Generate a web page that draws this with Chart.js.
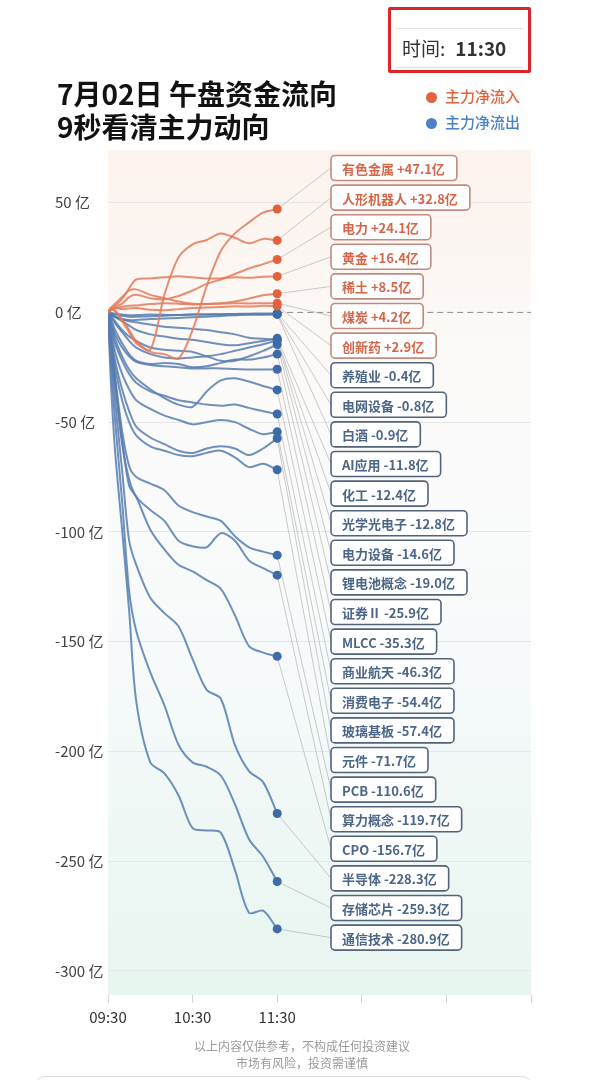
<!DOCTYPE html>
<html lang="zh-CN">
<head>
<meta charset="utf-8">
<title>7月02日 午盘资金流向</title>
<script src="https://cdn.jsdelivr.net/npm/chart.js@4.4.1/dist/chart.umd.min.js"></script>
<style>
    html, body { margin: 0; padding: 0; background: #fff; }
    body {
        width: 604px; height: 1080px; position: relative; overflow: hidden;
        font-family: "Noto Sans CJK SC", "Noto Sans", sans-serif;
    }
    .flow__chart { position: absolute; left: 0; top: 0; }
    .flow__title {
        position: absolute; left: 57px; top: 77px;
        font-size: 28px; font-weight: 700; line-height: 33px; color: #111;
    }
    .flow__legend {
        position: absolute; left: 426px; top: 83px;
        font-size: 15px; font-weight: 500; line-height: 26px;
    }
    .flow__legend i {
        display: inline-block; width: 11px; height: 11px; border-radius: 50%;
        margin-right: 8px; vertical-align: -1px;
    }
    .flow__time {
        position: absolute; left: 388px; top: 7px; width: 143px; height: 66px;
        box-sizing: border-box; border: 3px solid #d8262b; border-radius: 2px;
    }
    .flow__time-inner {
        position: absolute; left: 5px; right: 5px; top: 18px; height: 38px;
        border-top: 1px solid #e2e2e2; border-bottom: 1px solid #e2e2e2;
        font-size: 19px; line-height: 38px; color: #333; white-space: nowrap;
    }
    .flow__time-inner span { margin-left: 6px; }
    .flow__time-inner b { margin-left: 10px; font-weight: 700; }
    .flow__note {
        position: absolute; left: 0; top: 1037px; width: 604px; text-align: center;
        font-size: 12px; line-height: 17px; color: #9a9a9a;
    }
    .flow__input {
        position: absolute; left: 35px; top: 1076px; width: 495px; height: 20px;
        border: 1px solid #dcdcdc; border-radius: 10px;
    }
</style>
</head>
<body>
<canvas class="flow__chart" width="604" height="1080"></canvas>

<div class="flow__time"><div class="flow__time-inner"><span>时间:</span><b>11:30</b></div></div>
<div class="flow__title">7月02日 午盘资金流向<br>9秒看清主力动向</div>
<div class="flow__legend">
    <div style="color:#e2643f"><i style="background:#e2643f"></i>主力净流入</div>
    <div style="color:#4a82c8"><i style="background:#4a82c8"></i>主力净流出</div>
</div>
<div class="flow__note">以上内容仅供参考，不构成任何投资建议<br>市场有风险，投资需谨慎</div>
<div class="flow__input"></div>

<script>
// Data (minutes after 09:30, values in 亿)

const minutes = [0, 2, 5, 10, 15, 20, 30, 40, 50, 60, 70, 80, 90, 100, 110, 120];
const xTicks = [0, 60, 120, 180, 240, 300];
const xTickLabels = ["09:30", "10:30", "11:30", "", "", ""];
const yTicks = [50, 0, -50, -100, -150, -200, -250, -300];

const sectors = [
    "有色金属", "人形机器人", "电力", "黄金", "稀土", "煤炭", "创新药",
    "养殖业", "电网设备", "白酒", "AI应用", "化工", "光学光电子", "电力设备",
    "锂电池概念", "证券Ⅱ", "MLCC", "商业航天", "消费电子", "玻璃基板", "元件",
    "PCB", "算力概念", "CPO", "半导体", "存储芯片", "通信技术",
];

const flows = [
    [0, 1.5, 0.5, -3, -8, -13, -18, -19, -21, -8, 12, 28, 36, 41, 45.5, 47.1],
    [0, 2, 1, -4, -9, -14, -17, 8, 25, 31, 33, 36, 34, 31.5, 33.5, 32.8],
    [0, 1, 2.5, 4, 7, 8, 6.5, 6, 7.5, 10, 13, 15, 17.5, 20, 22, 24.1],
    [0, 1, 3, 6, 11, 15, 15.5, 16, 16.5, 16, 15.5, 15.5, 16, 15.8, 16.3, 16.4],
    [0, 2, 4, 7, 10, 10.5, 8, 6.5, 5, 4, 3.8, 4.2, 5, 6.3, 7.8, 8.5],
    [0, 1, 2, 2.5, 3, 3.2, 3.8, 4.2, 4, 3.6, 3.8, 4, 4.2, 4.1, 4.2, 4.2],
    [0, 1.5, 2, 1.5, 1.8, 2, 1.2, 1, 1.5, 2, 2.2, 2.5, 2.8, 2.7, 3, 2.9],
    [0, -0.5, -1, -1.5, -2, -2, -1.8, -1.5, -1.2, -1, -0.9, -0.8, -0.7, -0.6, -0.5, -0.4],
    [0, -1, -2, -3, -3.5, -3.5, -3, -2.8, -2.5, -2.2, -2, -1.6, -1.3, -1, -0.9, -0.8],
    [0, -0.3, -0.6, -1, -1.3, -1.2, -1, -1.1, -1.2, -1, -1, -0.9, -0.9, -1, -0.9, -0.9],
    [0, -1, -2, -4, -6, -8, -10, -11, -12, -12.5, -13.5, -14.5, -15, -14, -13, -11.8],
    [0, -1, -2, -3, -4, -4.5, -5.5, -6.5, -7, -7.5, -8, -9, -10, -11.5, -12, -12.4],
    [0, -2, -5, -9, -13, -16, -19, -20.5, -21, -20.5, -20, -19, -17.5, -16, -14.5, -12.8],
    [0, -1.5, -4, -8, -11, -13, -16, -17, -17.5, -18, -20, -22, -22, -20, -17.5, -14.6],
    [0, -3, -8, -14, -19, -22, -23.5, -23, -23.5, -25, -24.5, -23, -21.5, -21.5, -20.5, -19.0],
    [0, -4, -10, -16, -20, -22.5, -24, -24.5, -25, -25.5, -25.5, -25.5, -25.8, -26, -26, -25.9],
    [0, -5, -12, -20, -26, -30, -35, -39, -42, -43, -36, -31, -30, -31.5, -33.5, -35.3],
    [0, -6, -14, -22, -28, -32, -36, -38, -40, -41, -42, -42.5, -42, -43.5, -45, -46.3],
    [0, -8, -18, -28, -35, -40, -44, -47, -49, -51, -50, -49, -50, -53, -55.5, -54.4],
    [0, -10, -22, -35, -45, -52, -57, -60, -63, -64, -62, -61, -62, -65, -62, -57.4],
    [0, -12, -25, -40, -50, -56, -61, -63, -65, -65.5, -64, -63, -66, -70.5, -69, -71.7],
    [0, -13, -29, -54, -70, -75, -78, -81, -88, -91, -93, -95, -102, -107, -109, -110.6],
    [0, -15, -33, -60, -76, -84, -90, -95, -104, -106.5, -107, -100.6, -104, -113, -116.5, -119.7],
    [0, -13, -31, -58, -79, -84, -99, -108, -115, -118, -122, -126, -138, -152, -155, -156.7],
    [0, -17, -40, -72, -104, -115, -130, -137, -143, -158, -172, -176, -197, -209, -214, -228.3],
    [0, -22, -49, -86, -127, -145, -164, -179, -197, -205, -207, -211, -224, -240, -248, -259.3],
    [0, -31, -63, -99, -136, -177, -205, -210, -220, -235, -236, -237, -254, -273.5, -272.6, -280.9],
];

// Label boxes on the right

const boxLeft = 331;
const boxTop = 168;
const boxGap = 29.6;
const boxHeight = 25;

const lastIndex = minutes.length - 1;
const lastValue = (i) => flows[i][lastIndex];

const plotBackground = {
    id: "plotBackground",
    beforeDraw(chart) {
        const { ctx, chartArea: a } = chart;
        const g = ctx.createLinearGradient(0, a.top, 0, a.bottom);
        g.addColorStop(0, "#fcf3ed");
        g.addColorStop(0.3, "#fcfbfa");
        g.addColorStop(0.6, "#f7fafb");
        g.addColorStop(1, "#e7f5ef");
        ctx.save();
        ctx.fillStyle = g;
        ctx.fillRect(a.left, a.top, a.right - a.left, a.bottom - a.top);
        ctx.restore();
    },
};

const sectorBoxes = {
    id: "sectorBoxes",
    beforeDatasetsDraw(chart) {
        const { ctx, chartArea, scales } = chart;
        const y0 = scales.y.getPixelForValue(0);
        const xEnd = scales.x.getPixelForValue(minutes[lastIndex]);
        ctx.save();
        ctx.strokeStyle = "#8c8c8c";
        ctx.lineWidth = 1;
        ctx.setLineDash([6, 4]);
        ctx.beginPath();
        ctx.moveTo(xEnd, y0);
        ctx.lineTo(chartArea.right, y0);
        ctx.stroke();
        ctx.setLineDash([]);
        ctx.strokeStyle = "rgba(160, 160, 160, 0.55)";
        sectors.forEach((name, i) => {
            const pt = chart.getDatasetMeta(i).data[lastIndex];
            ctx.beginPath();
            ctx.moveTo(pt.x, pt.y);
            ctx.lineTo(boxLeft, boxTop + i * boxGap);
            ctx.stroke();
        });
        ctx.restore();
    },
    afterDatasetsDraw(chart) {
        const { ctx } = chart;
        ctx.save();
        ctx.font = 'bold 13px "Noto Sans CJK SC", sans-serif';
        ctx.textBaseline = "middle";
        ctx.lineWidth = 1.6;
        sectors.forEach((name, i) => {
            const v = lastValue(i);
            const text = name + " " + (v > 0 ? "+" : "") + v.toFixed(1) + "亿";
            const w = ctx.measureText(text).width + 23;
            const cy = boxTop + i * boxGap;
            ctx.beginPath();
            ctx.roundRect(boxLeft, cy - boxHeight / 2, w, boxHeight, 4);
            ctx.fillStyle = "#ffffff";
            ctx.fill();
            ctx.strokeStyle = v > 0 ? "#c08b80" : "#53637a";
            ctx.stroke();
            ctx.fillStyle = v > 0 ? "#d6664a" : "#4b6688";
            ctx.fillText(text, boxLeft + 11, cy + 1);
        });
        ctx.restore();
    },
};

// Chart

Chart.defaults.font.family = '"Noto Sans CJK SC", "Noto Sans", sans-serif';

const ctx = document.querySelector(".flow__chart");

const chart = new Chart(ctx, {
    type: "line",
    data: {
        datasets: sectors.map((name, i) => {
            const inflow = lastValue(i) > 0;
            return {
                label: name,
                data: minutes.map((m, k) => ({ x: m, y: flows[i][k] })),
                borderColor: inflow ? "rgba(228, 122, 90, 0.85)" : "rgba(86, 124, 178, 0.85)",
                borderWidth: 2,
                tension: 0.3,
                pointRadius: (c) => (c.dataIndex === lastIndex ? 4.5 : 0),
                pointBackgroundColor: inflow ? "#e2623f" : "#3d6ba7",
                pointBorderWidth: 0,
            };
        }),
    },
    options: {
        responsive: false,
        animation: false,
        devicePixelRatio: 1,
        layout: {
            padding: { top: 150, right: 73, bottom: 45, left: 55 },
        },
        plugins: {
            legend: { display: false },
            tooltip: { enabled: false },
        },
        scales: {
            x: {
                type: "linear",
                min: 0,
                max: 300,
                afterBuildTicks: (axis) => {
                    axis.ticks = xTicks.map((v) => ({ value: v }));
                },
                afterFit: (axis) => {
                    axis.height = 40;
                },
                grid: {
                    drawOnChartArea: false,
                    tickLength: 8,
                    tickColor: "#d6d6d6",
                },
                border: { display: false },
                ticks: {
                    padding: 5,
                    color: "#333",
                    font: { size: 15 },
                    maxRotation: 0,
                    callback: (v) => xTickLabels[xTicks.indexOf(v)],
                },
            },
            y: {
                min: -311,
                max: 74,
                afterBuildTicks: (axis) => {
                    axis.ticks = yTicks.map((v) => ({ value: v }));
                },
                afterFit: (axis) => {
                    axis.width = 53;
                },
                grid: {
                    drawTicks: false,
                    color: (c) => (c.tick && c.tick.value === 0 ? "rgba(0,0,0,0)" : "#e6e6e6"),
                },
                border: { display: false },
                ticks: {
                    crossAlign: "far",
                    padding: 8,
                    color: "#444",
                    font: { size: 15 },
                    callback: (v) => v + " 亿",
                },
            },
        },
    },
    plugins: [plotBackground, sectorBoxes],
});
</script>
</body>
</html>
